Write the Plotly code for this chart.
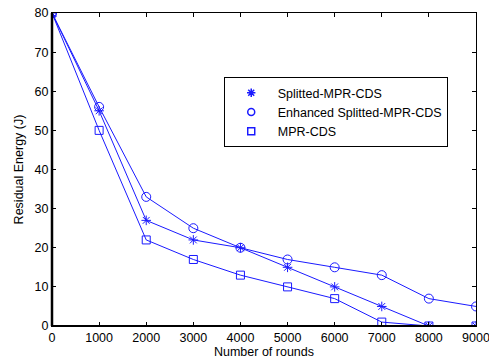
import plotly.graph_objects as go

rounds = [0, 1000, 2000, 3000, 4000, 5000, 6000, 7000, 8000, 9000]
splitted = [80, 55, 27, 22, 20, 15, 10, 5, 0, 0]
enhanced = [80, 56, 33, 25, 20, 17, 15, 13, 7, 5]
mpr = [80, 50, 22, 17, 13, 10, 7, 1, 0, 0]
names = ["Splitted-MPR-CDS", "Enhanced Splitted-MPR-CDS", "MPR-CDS"]
symbols = ["asterisk-open", "circle-open", "square-open"]
sizes = [8, 9, 8]
xticks = list(range(0, 9001, 1000))
yticks = list(range(0, 81, 10))

FONT = "Liberation Sans, Arial"
FS = 12.5
color = "#1a1aff"
fig = go.Figure()
for ys, nm, sym, sz in zip([splitted, enhanced, mpr], names, symbols, sizes):
    fig.add_trace(go.Scatter(x=rounds, y=ys, mode="lines+markers", showlegend=False,
                             line=dict(color=color, width=1),
                             marker=dict(symbol=sym, size=sz, color=color, line=dict(color=color, width=1))))
for nm, sym, sz in zip(names, symbols, sizes):
    fig.add_trace(go.Scatter(x=[None], y=[None], mode="markers", name=nm,
                             marker=dict(symbol=sym, size=7, color=color, line=dict(color=color, width=1.5))))

axis_common = dict(showline=True, linecolor="black", linewidth=1, mirror="ticks",
                   ticks="inside", ticklen=4, tickcolor="black", showgrid=False, zeroline=False,
                   automargin=False, ticklabeloverflow="allow",
                   tickfont=dict(family=FONT, size=FS, color="black"))
fig.update_xaxes(range=[0, 9000], tickvals=xticks, **axis_common,
                 title=dict(text="Number of rounds", standoff=2,
                            font=dict(family=FONT, size=FS, color="black")))
fig.update_yaxes(range=[0, 80], tickvals=yticks, **axis_common,
                 title=dict(text="Residual Energy (J)", standoff=8,
                            font=dict(family=FONT, size=FS, color="black")))
# thicker left and bottom axis lines
fig.add_shape(type="line", xref="paper", yref="paper", x0=0, x1=0, y0=0, y1=1,
              line=dict(color="black", width=2.5))
fig.add_shape(type="line", xref="paper", yref="paper", x0=0, x1=1, y0=0, y1=0,
              line=dict(color="black", width=2))
fig.update_layout(width=489, height=360, margin=dict(l=52, r=13, t=13, b=34),
                  plot_bgcolor="white", paper_bgcolor="white",
                  legend=dict(x=0.405, y=0.795, xanchor="left", yanchor="top",
                              bordercolor="black", borderwidth=1, bgcolor="white",
                              font=dict(family=FONT, size=FS, color="black"),
                              tracegroupgap=0, itemwidth=43))
fig.write_html("out.html", config={"displayModeBar": False},
               post_script="document.body.style.margin='0';document.body.style.overflow='hidden';")
